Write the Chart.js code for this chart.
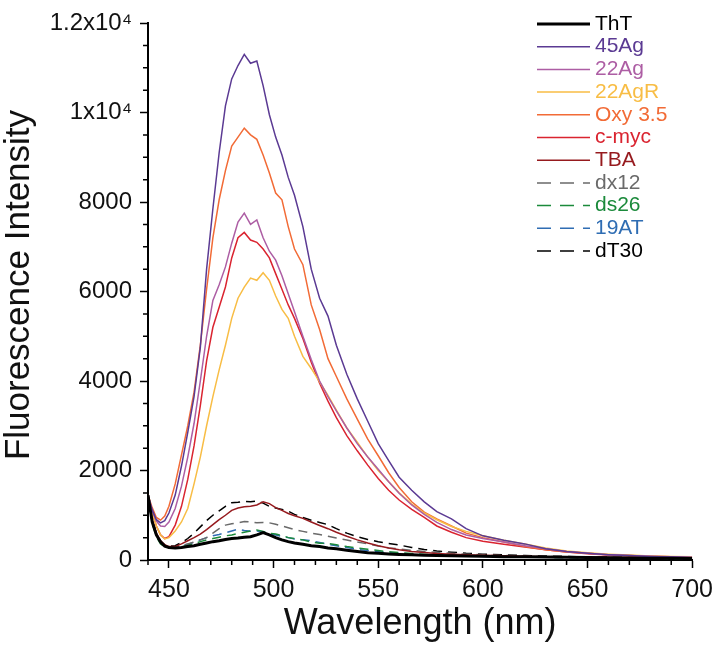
<!DOCTYPE html>
<html lang="en">
<head>
<meta charset="UTF-8">
<title>Fluorescence Intensity</title>
<script src="https://cdn.jsdelivr.net/npm/chart.js@4"></script>
<style>
  html, body { margin: 0; padding: 0; background: #fff; }
</style>
</head>
<body>
<canvas id="spectra" width="720" height="647"></canvas>
<script>
// wavelength grid (nm) shared by every spectrum
const wavelengths = [440, 442, 444, 446, 448, 450, 453, 456, 459, 462, 465, 468, 471, 474, 477, 480, 483, 486, 489, 492,
  495, 498, 501, 504, 507, 510, 514, 518, 522, 526, 530, 535, 540, 545, 550, 555, 560, 566, 572, 578,
  585, 592, 600, 610, 620, 630, 640, 650, 660, 670, 680, 690, 700];

// intensities, one list per sample
const tht = [1450, 850, 560, 400, 310, 280, 270, 280, 300, 320, 350, 380, 410, 430, 460, 480, 490, 510, 520, 560,
  610, 560, 500, 450, 410, 380, 350, 320, 300, 270, 250, 220, 190, 160, 150, 135, 125, 115, 105, 100,
  95, 90, 85, 75, 70, 65, 60, 55, 50, 45, 40, 40, 35];
const ag45 = [1450, 1120, 900, 830, 880, 1050, 1450, 2100, 2850, 3650, 4750, 6500, 7850, 9100, 10150, 10750, 11050, 11300, 11100, 11150,
  10600, 9950, 9450, 9050, 8550, 8150, 7450, 6500, 5850, 5450, 4800, 4150, 3600, 3100, 2600, 2220, 1850, 1560, 1300, 1080,
  920, 700, 540, 440, 360, 250, 190, 150, 120, 100, 80, 65, 55];
const ag22 = [1450, 1100, 870, 760, 750, 850, 1150, 1650, 2300, 3050, 4000, 5000, 5800, 6150, 6550, 7080, 7550, 7750, 7500, 7600,
  7200, 6900, 6700, 6350, 5950, 5550, 5000, 4480, 4000, 3650, 3330, 2950, 2600, 2300, 2030, 1750, 1490, 1230, 1020, 840,
  680, 560, 480, 400, 320, 250, 190, 150, 120, 100, 85, 70, 60];
const ag22R = [1450, 1050, 760, 560, 470, 500, 650, 850, 1150, 1700, 2300, 3000, 3650, 4250, 4800, 5400, 5850, 6100, 6300, 6250,
  6420, 6250, 5900, 5600, 5400, 5000, 4550, 4280, 3980, 3680, 3350, 2950, 2630, 2300, 2000, 1750, 1500, 1250, 1050, 900,
  750, 640, 540, 440, 360, 270, 200, 160, 130, 110, 90, 80, 70];
const oxy35 = [1450, 1170, 950, 890, 980, 1200, 1700, 2350, 3000, 3750, 4800, 6050, 7200, 8050, 8700, 9250, 9450, 9650, 9500, 9400,
  9050, 8650, 8200, 8050, 7450, 6950, 6600, 5700, 5150, 4500, 4100, 3600, 3150, 2700, 2330, 1950, 1620, 1300, 1070, 920,
  760, 600, 500, 400, 300, 230, 180, 150, 120, 100, 85, 75, 70];
const cmyc = [1450, 1050, 760, 560, 480, 520, 780, 1200, 1800, 2550, 3450, 4450, 5200, 5650, 6100, 6750, 7200, 7320, 7150, 7100,
  6950, 6750, 6400, 6050, 5700, 5400, 4950, 4420, 3950, 3550, 3180, 2780, 2440, 2120, 1820, 1560, 1340, 1130, 950, 760,
  620, 500, 420, 350, 290, 230, 180, 140, 110, 95, 80, 70, 60];
const tba = [1450, 900, 600, 430, 340, 300, 300, 360, 430, 500, 580, 680, 790, 900, 1000, 1110, 1160, 1190, 1200, 1230,
  1300, 1260, 1170, 1110, 1040, 990, 930, 850, 770, 700, 620, 530, 450, 380, 320, 270, 230, 190, 165, 145,
  130, 115, 105, 95, 85, 75, 70, 65, 60, 55, 50, 45, 45];
const dx12 = [1450, 880, 580, 410, 320, 290, 290, 320, 360, 400, 450, 500, 600, 700, 780, 810, 830, 860, 850, 830,
  840, 830, 800, 760, 720, 680, 640, 600, 570, 530, 490, 445, 400, 360, 310, 270, 250, 215, 190, 170,
  150, 130, 115, 100, 90, 80, 70, 65, 60, 55, 50, 45, 40];
const ds26 = [1450, 820, 520, 360, 290, 260, 260, 290, 330, 370, 410, 450, 480, 510, 540, 560, 590, 620, 650, 670,
  640, 600, 580, 550, 500, 480, 450, 400, 375, 370, 340, 300, 270, 240, 210, 185, 165, 145, 130, 115,
  105, 95, 85, 75, 70, 60, 55, 50, 45, 40, 40, 35, 35];
const at19 = [1450, 850, 560, 400, 310, 280, 280, 310, 350, 400, 450, 500, 540, 570, 610, 650, 690, 660, 640, 650,
  630, 590, 560, 530, 500, 470, 450, 430, 390, 350, 320, 280, 235, 210, 185, 165, 150, 135, 120, 110,
  100, 90, 80, 70, 65, 60, 55, 50, 45, 40, 40, 35, 35];
const dt30 = [1450, 900, 600, 430, 340, 310, 320, 390, 480, 600, 740, 880, 1000, 1100, 1200, 1280, 1290, 1310, 1300, 1320,
  1270, 1200, 1160, 1130, 1090, 1020, 950, 890, 840, 790, 700, 600, 520, 460, 410, 370, 335, 280, 235, 200,
  175, 150, 130, 115, 100, 90, 80, 70, 65, 60, 55, 50, 45];

const seriesLabels = ['ThT', '45Ag', '22Ag', '22AgR', 'Oxy 3.5', 'c-myc', 'TBA', 'dx12', 'ds26', '19AT', 'dT30'];
const seriesValues = [tht, ag45, ag22, ag22R, oxy35, cmyc, tba, dx12, ds26, at19, dt30];
const seriesColors = ['#000000', '#5b3a93', '#ad5ea4', '#f8bd45', '#f26b36', '#da2430', '#961a1e', '#6a6a6a', '#1b8a3b', '#2f6db3', '#000000'];
const seriesDashed = [false, false, false, false, false, false, false, true, true, true, true];

const xTicks = [450, 500, 550, 600, 650, 700];
const yTicks = [0, 2000, 4000, 6000, 8000, 10000, 12000];
const yTickLabels = ['0', '2000', '4000', '6000', '8000', '1x10\u2074', '1.2x10\u2074'];
const yTitle = 'Fluorescence Intensity';

const FONT = '"Liberation Sans", Arial, Helvetica, sans-serif';

const datasets = seriesLabels.map((name, i) => ({
  label: name,
  data: wavelengths.map((w, k) => ({ x: w, y: seriesValues[i][k] })),
  borderColor: seriesColors[i],
  borderWidth: i === 0 ? 3 : 1.5,
  borderDash: seriesDashed[i] ? [9, 6] : [],
  pointRadius: 0,
  tension: 0,
  fill: false
}));

// small ticks between the labelled ones
const minorTicks = {
  id: 'minorTicks',
  afterDraw(chart) {
    const { ctx, scales: { x, y } } = chart;
    ctx.save();
    ctx.strokeStyle = '#000';
    ctx.lineWidth = 1.5;
    ctx.beginPath();
    for (let v = x.min; v <= x.max; v += 10) {
      if (v % 50 === 0) continue;
      const px = x.getPixelForValue(v);
      ctx.moveTo(px, y.bottom);
      ctx.lineTo(px, y.bottom + 5);
    }
    for (let v = y.min; v <= y.max; v += 500) {
      if (v % 2000 === 0) continue;
      const py = y.getPixelForValue(v);
      ctx.moveTo(x.left, py);
      ctx.lineTo(x.left - 5, py);
    }
    ctx.stroke();
    ctx.restore();
  }
};

// y axis title, sitting a little above the axis centre as in the source figure
const sideTitle = {
  id: 'sideTitle',
  afterDraw(chart) {
    const ctx = chart.ctx;
    ctx.save();
    ctx.translate(19.5, 285);
    ctx.rotate(-Math.PI / 2);
    ctx.font = '35px ' + FONT;
    ctx.fillStyle = '#111';
    ctx.textAlign = 'center';
    ctx.textBaseline = 'middle';
    ctx.fillText(yTitle, 0, 0);
    ctx.restore();
  }
};

// legend drawn inside the plot, top right, text in the line colour
const lineLegend = {
  id: 'lineLegend',
  afterDraw(chart) {
    const ctx = chart.ctx;
    ctx.save();
    ctx.font = '21px ' + FONT;
    ctx.textBaseline = 'middle';
    chart.data.datasets.forEach((ds, i) => {
      const ly = 24 + i * 22.7;
      ctx.strokeStyle = ds.borderColor;
      ctx.lineWidth = ds.borderWidth;
      ctx.setLineDash(ds.borderDash.length ? [14, 9] : []);
      ctx.beginPath();
      ctx.moveTo(537, ly);
      ctx.lineTo(590, ly);
      ctx.stroke();
      ctx.fillStyle = ds.borderColor;
      ctx.fillText(ds.label, 595, ly);
    });
    ctx.restore();
  }
};

new Chart(document.getElementById('spectra'), {
  type: 'line',
  data: { datasets: datasets },
  options: {
    responsive: false,
    animation: false,
    layout: { padding: { top: 23, right: 27, left: 0, bottom: 0 } },
    plugins: {
      legend: { display: false },
      tooltip: { enabled: false }
    },
    scales: {
      x: {
        type: 'linear',
        min: 440,
        max: 700,
        afterBuildTicks: s => { s.ticks = xTicks.map(v => ({ value: v })); },
        afterFit: s => { s.height = 87; },
        border: { color: '#000', width: 2 },
        grid: { drawOnChartArea: false, tickLength: 8, tickColor: '#000', tickWidth: 1.5 },
        ticks: { color: '#111', font: { family: FONT, size: 25 }, padding: 7, maxRotation: 0 },
        title: { display: true, text: 'Wavelength (nm)', color: '#111', font: { family: FONT, size: 36, lineHeight: 1 }, padding: { top: 0, bottom: 5 } }
      },
      y: {
        min: 0,
        max: 12000,
        afterBuildTicks: s => { s.ticks = yTicks.map(v => ({ value: v })); },
        afterFit: s => { s.width = 148; },
        border: { color: '#000', width: 2 },
        grid: { drawOnChartArea: false, tickLength: 8, tickColor: '#000', tickWidth: 1.5 },
        ticks: {
          color: '#111',
          font: { family: FONT, size: 24 },
          padding: 8,
          callback: v => yTickLabels[yTicks.indexOf(v)]
        },
        title: { display: false }
      }
    }
  },
  plugins: [minorTicks, sideTitle, lineLegend]
});
</script>
</body>
</html>
